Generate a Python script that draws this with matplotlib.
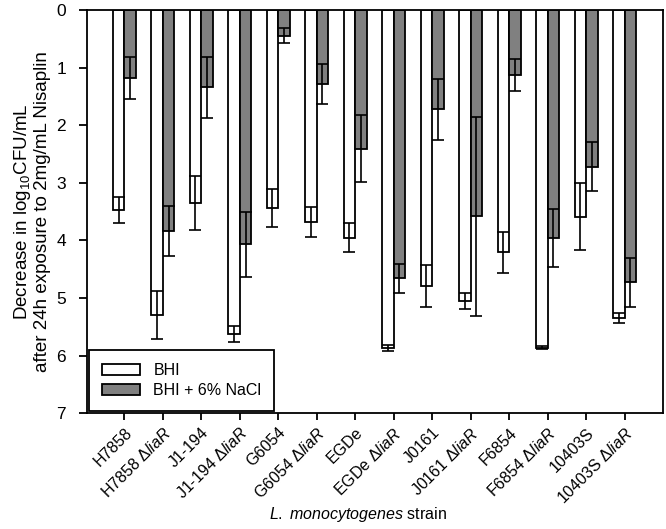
import matplotlib
matplotlib.use('Agg')
import matplotlib.pyplot as plt
import numpy as np

plt.rcParams['font.family'] = ['Liberation Sans', 'DejaVu Sans']
plt.rcParams['mathtext.fontset'] = 'custom'
plt.rcParams['mathtext.rm'] = 'Liberation Sans'
plt.rcParams['mathtext.it'] = 'Liberation Sans:italic'

# strains (Δ = liaR deletion mutant)
strains = ['H7858', r'H7858 $\Delta\mathit{liaR}$', 'J1-194', r'J1-194 $\Delta\mathit{liaR}$',
           'G6054', r'G6054 $\Delta\mathit{liaR}$', 'EGDe', r'EGDe $\Delta\mathit{liaR}$',
           'J0161', r'J0161 $\Delta\mathit{liaR}$', 'F6854', r'F6854 $\Delta\mathit{liaR}$',
           '10403S', r'10403S $\Delta\mathit{liaR}$']

bhi = [3.47, 5.30, 3.35, 5.63, 3.43, 3.68, 3.95, 5.87, 4.79, 5.05, 4.21, 5.86, 3.59, 5.35]
bhi_err = [0.22, 0.42, 0.47, 0.14, 0.33, 0.26, 0.25, 0.05, 0.36, 0.14, 0.36, 0.02, 0.58, 0.09]
nacl = [1.18, 3.84, 1.34, 4.07, 0.45, 1.28, 2.41, 4.66, 1.72, 3.58, 1.13, 3.96, 2.72, 4.73]
nacl_err = [0.36, 0.43, 0.53, 0.56, 0.13, 0.35, 0.58, 0.25, 0.53, 1.73, 0.28, 0.50, 0.42, 0.42]

x = np.arange(len(strains))
w = 0.3

fig = plt.figure(figsize=(6.66, 5.29), dpi=100)
ax = fig.add_axes([0.1306, 0.219, 0.8649, 0.762])

ax.bar(x - w / 2, bhi, w, color='white', edgecolor='black', linewidth=1.3, label='BHI', zorder=2)
ax.bar(x + w / 2, nacl, w, color='#808080', edgecolor='black', linewidth=1.3, label='BHI + 6% NaCl', zorder=2)
ax.errorbar(x - w / 2, bhi, yerr=bhi_err, fmt='none', ecolor='black', elinewidth=1.2,
            capsize=4.0, capthick=1.2, zorder=3)
ax.errorbar(x + w / 2, nacl, yerr=nacl_err, fmt='none', ecolor='black', elinewidth=1.2,
            capsize=4.0, capthick=1.2, zorder=3)

ax.set_ylim(7, 0)
ax.set_xlim(-0.97, 14.0)
ax.set_yticks(range(8))
ax.set_xticks(x)
ax.set_xticklabels(strains, rotation=45, ha='right', rotation_mode='anchor', fontsize=11.5)
ax.tick_params(axis='y', labelsize=12.5, length=6, width=1.3, direction='out', pad=9)
ax.tick_params(axis='x', length=5, width=1.3, direction='out')
for s in ax.spines.values():
    s.set_linewidth(1.3)

ax.set_ylabel('Decrease in log$_{10}$CFU/mL\nafter 24h exposure to 2mg/mL Nisaplin', fontsize=13.5,
              linespacing=1.1)
ax.set_xlabel(r'$\mathit{L.}$ $\mathit{monocytogenes}$ strain', fontsize=11.5)
ax.xaxis.set_label_coords(0.47, -0.228)

leg = ax.legend(loc='lower left', bbox_to_anchor=(0, 0), borderaxespad=0.15, fancybox=False,
                edgecolor='black', framealpha=1, fontsize=11.5, handlelength=2.4,
                handleheight=0.75, labelspacing=0.3, borderpad=0.8)
leg.get_frame().set_linewidth(1.3)

fig.savefig('out.png', dpi=100)
